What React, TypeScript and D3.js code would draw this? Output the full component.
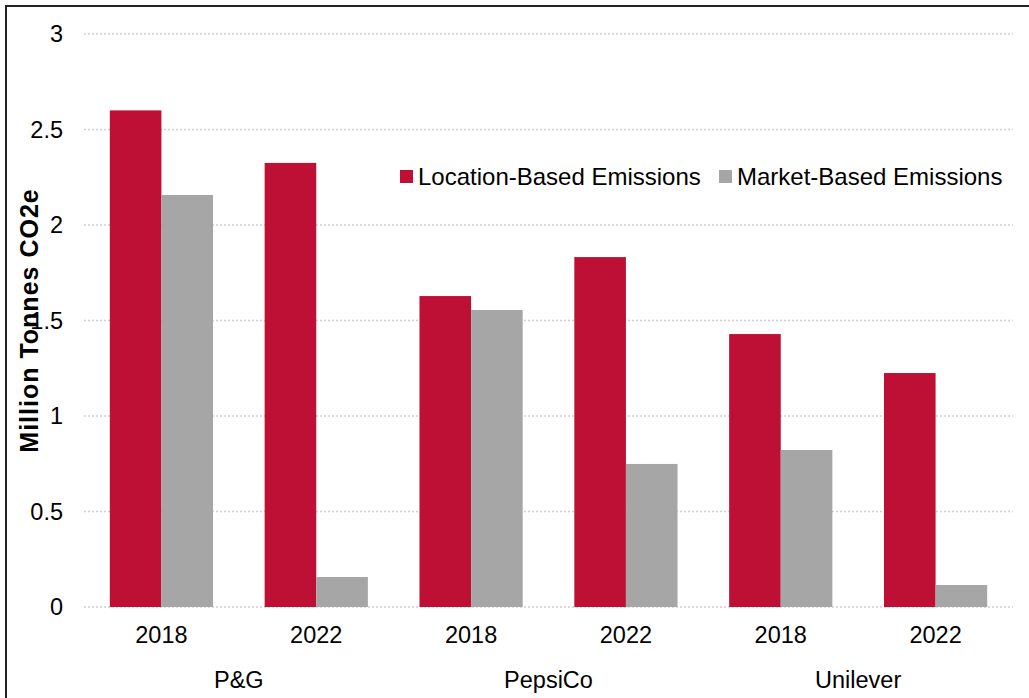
import * as d3 from 'd3';
import React, { useEffect, useRef } from 'react';

const companies = ['P&G', 'PepsiCo', 'Unilever'];
const years = ['2018', '2022'];
const seriesNames = ['Location-Based Emissions', 'Market-Based Emissions'];
const locationBased = [2.6, 2.325, 1.628, 1.832, 1.429, 1.225];
const marketBased = [2.157, 0.157, 1.555, 0.749, 0.822, 0.115];
const yTicks = [0, 0.5, 1, 1.5, 2, 2.5, 3];
const colors = ['#be1035', '#a6a6a6'];

const App = () => {
  const svgRef = useRef<SVGSVGElement>(null);

  useEffect(() => {
    const svg = d3.select(svgRef.current);
    svg.selectAll('*').remove();

    const font = 'Liberation Sans, Arial, sans-serif';
    const left = 84, right = 1013, top = 34, bottom = 607;

    // one slot per company/year pair
    const groups = companies.flatMap(c => years.map(y => ({ company: c, year: y })));
    const x0 = d3.scaleBand<number>()
      .domain(groups.map((_, i) => i))
      .range([left, right]);
    const x1 = d3.scaleBand<number>()
      .domain([0, 1])
      .range([0, x0.bandwidth()])
      .paddingInner(0)
      .paddingOuter(0.5);
    const y = d3.scaleLinear().domain([0, 3]).range([bottom, top]);

    // frame
    svg.append('path')
      .attr('d', 'M6,698 L6,6 L1029,6')
      .attr('fill', 'none')
      .attr('stroke', '#222')
      .attr('stroke-width', 2);

    // gridlines
    svg.append('g').selectAll('line')
      .data(yTicks)
      .enter()
      .append('line')
      .attr('x1', left)
      .attr('x2', right)
      .attr('y1', d => y(d))
      .attr('y2', d => y(d))
      .attr('stroke', '#d0d0d0')
      .attr('stroke-width', 1.5)
      .attr('stroke-dasharray', '2,2');

    // y tick labels
    svg.append('g').selectAll('text')
      .data(yTicks)
      .enter()
      .append('text')
      .attr('x', 63)
      .attr('y', d => y(d))
      .attr('dy', '0.36em')
      .attr('text-anchor', 'end')
      .attr('font-family', font)
      .attr('font-size', 23.5)
      .attr('fill', '#000')
      .text(d => d3.format('')(d));

    // bars
    const series = [locationBased, marketBased];
    series.forEach((values, s) => {
      svg.append('g').selectAll('rect')
        .data(values)
        .enter()
        .append('rect')
        .attr('x', (_, i) => (x0(i) as number) + (x1(s) as number))
        .attr('width', x1.bandwidth())
        .attr('y', d => y(d))
        .attr('height', d => y(0) - y(d))
        .attr('fill', colors[s]);
    });

    // year labels
    svg.append('g').selectAll('text')
      .data(groups)
      .enter()
      .append('text')
      .attr('x', (_, i) => (x0(i) as number) + x0.bandwidth() / 2)
      .attr('y', 643)
      .attr('text-anchor', 'middle')
      .attr('font-family', font)
      .attr('font-size', 23.5)
      .text(d => d.year);

    // company labels
    svg.append('g').selectAll('text')
      .data(companies)
      .enter()
      .append('text')
      .attr('x', (_, i) => (x0(i * 2) as number) + x0.bandwidth())
      .attr('y', 687.5)
      .attr('text-anchor', 'middle')
      .attr('font-family', font)
      .attr('font-size', 23.5)
      .text(d => d);

    // y axis title
    svg.append('text')
      .attr('transform', `translate(38,${(top + bottom) / 2}) rotate(-90)`)
      .attr('text-anchor', 'middle')
      .attr('font-family', font)
      .attr('font-size', 25)
      .attr('letter-spacing', 1)
      .attr('font-weight', 'bold')
      .text('Million Tonnes CO2e');

    // legend
    const legendX = [400, 719];
    const legend = svg.append('g');
    seriesNames.forEach((name, i) => {
      legend.append('rect')
        .attr('x', legendX[i])
        .attr('y', 170)
        .attr('width', 13)
        .attr('height', 13)
        .attr('fill', colors[i]);
      legend.append('text')
        .attr('x', legendX[i] + 18)
        .attr('y', 184.5)
        .attr('font-family', font)
        .attr('font-size', 24)
        .text(name);
    });
  }, []);

  return (
    <svg
      ref={svgRef}
      width={1029}
      height={698}
      style={{ position: 'absolute', left: 0, top: 0, background: '#fff' }}
    />
  );
};

export default App;
